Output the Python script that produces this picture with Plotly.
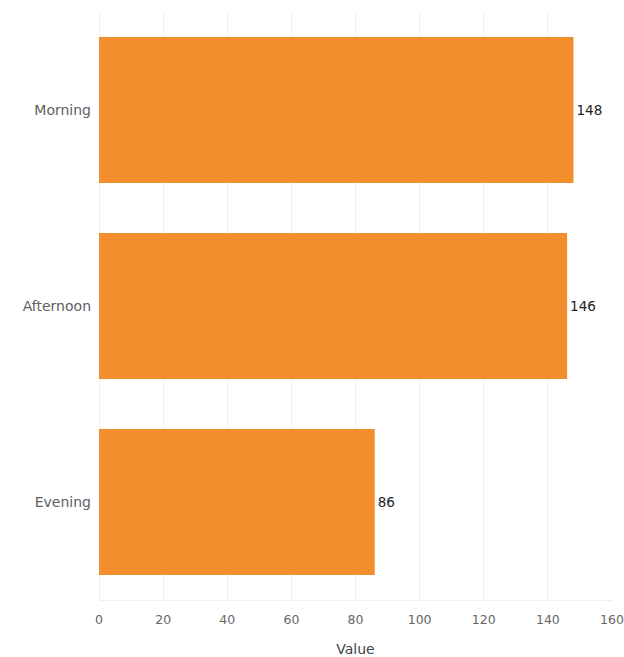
import plotly.graph_objects as go

categories = ["Morning", "Afternoon", "Evening"]
values = [148, 146, 86]
tick_vals = [0, 20, 40, 60, 80, 100, 120, 140, 160]

FONT = "DejaVu Sans, sans-serif"

fig = go.Figure(go.Bar(
    y=categories,
    x=values,
    orientation="h",
    marker=dict(color="#F28E2B", line=dict(width=0)),
    text=[str(v) for v in values],
    textposition="outside",
    textfont=dict(color="#222222", size=13.5, family=FONT),
    cliponaxis=False,
))

fig.update_layout(
    width=624, height=657,
    margin=dict(l=99, r=12, t=12, b=57, autoexpand=False),
    plot_bgcolor="white", paper_bgcolor="white",
    font=dict(family=FONT, size=13, color="#666666"),
    bargap=0.255,
    showlegend=False,
    xaxis=dict(
        range=[0, 160], tickvals=tick_vals, automargin=False,
        showgrid=True, gridcolor="#f0f0f0", gridwidth=1,
        zeroline=True, zerolinecolor="#f0f0f0", zerolinewidth=1,
        showline=True, linecolor="#f0f0f0", linewidth=1,
        ticks="", ticklabelstandoff=8,
        title=dict(text="Value", font=dict(size=14, color="#444444"), standoff=19),
        tickfont=dict(size=12.5, color="#666666"),
    ),
    yaxis=dict(
        categoryorder="array", categoryarray=categories[::-1], automargin=False,
        showgrid=False, ticks="", ticklabelstandoff=7,
        tickfont=dict(size=14, color="#606060"),
    ),
)

fig.write_html(
    "out.html",
    config={"displayModeBar": False},
    post_script="document.body.style.margin='0';document.body.style.overflow='hidden';",
)
